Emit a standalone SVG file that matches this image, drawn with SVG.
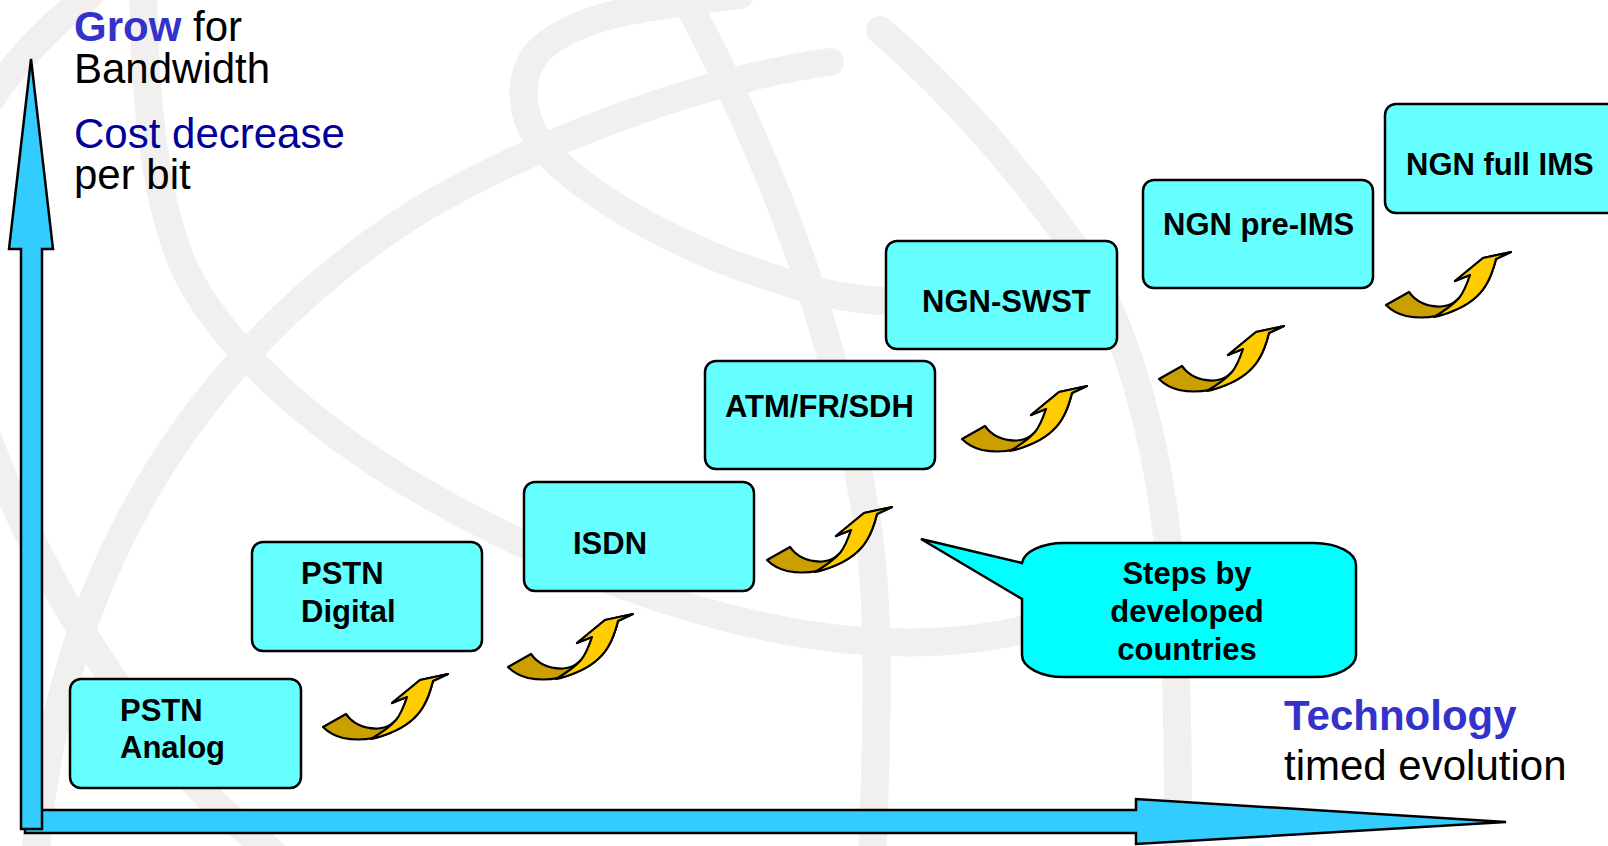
<svg xmlns="http://www.w3.org/2000/svg" width="1608" height="846" viewBox="0 0 1608 846">
<defs>
<style>
.bg{fill:none;stroke:#f1f0ee;stroke-width:28;stroke-linecap:round}
.box{fill:#66ffff;stroke:#000;stroke-width:2.5}
.lbl{font-family:"Liberation Sans",Arial,sans-serif;font-weight:bold;font-size:31px;fill:#000}
.big{font-family:"Liberation Sans",Arial,sans-serif;font-size:42px}
.k{fill:#000}
.blue{fill:#3333cc;font-weight:bold}
.navy{fill:#000099}
.axis{fill:#33ccff;stroke:#000;stroke-width:2.5;stroke-linejoin:miter}
.dark{fill:#cc9f00;stroke:#000;stroke-width:2.2;stroke-linejoin:round}
.lite{fill:#ffcc00;stroke:#000;stroke-width:2.2;stroke-linejoin:round}
</style>
<g id="step">
<path class="dark" d="M0,0 L23,-13 C30,-3 42,2 55,1.5 C65,1 73,-5 77,-12 C80,-18 83,-25 84,-30 L69,-24 L97,-47 L125,-53 L110,-46 C108,-38 105,-28 100,-20 C94,-10 82,0 67,6 C52,12 35,14 20,11 C12,9 5,5 0,0 Z"/>
<path class="lite" d="M48,12 C58,6 67,0 73,-7 C78,-13 82,-24 84,-30 L69,-24 L97,-47 L125,-53 L110,-46 C108,-38 105,-28 100,-20 C94,-10 82,0 67,6 C60,9 54,11 48,12 Z"/>
</g>
</defs>
<rect width="1608" height="846" fill="#fff"/>
<g id="globe">
<path class="bg" d="M90,-5 Q30,40 -10,100"/>
<path class="bg" d="M-15,430 C20,530 80,640 150,730 S250,830 280,860"/>
<path class="bg" d="M143,-10 C145,80 150,190 185,270 C220,340 300,420 420,490 C540,560 700,625 850,640 C950,648 1010,635 1060,620"/>
<path class="bg" d="M830,62 C700,80 540,140 420,210 C300,285 200,390 135,510 C80,610 45,730 35,860"/>
<path class="bg" d="M740,-5 C650,5 570,15 535,55 C515,85 520,130 560,165 C610,210 700,260 820,292 C900,310 960,300 1000,280"/>
<path class="bg" d="M880,30 C950,90 1030,180 1090,270 C1140,360 1165,480 1173,600 C1178,700 1178,780 1178,860"/>
<path class="bg" d="M680,-10 C720,60 775,180 808,280 C840,380 862,470 872,560 C880,650 876,760 872,860"/>
</g>
<g id="axes">
<path id="x-axis" class="axis" d="M25,810 L1136,810 L1136,799 L1506,822 L1136,844 L1136,833 L25,833 Z"/>
<path id="y-axis" class="axis" d="M31,59 L53,249 L42,249 L42,829 L21,829 L21,249 L9,249 Z"/>
</g>
<g id="titles">
<text class="big k" x="74" y="41"><tspan class="blue">Grow</tspan> for</text>
<text class="big k" x="74" y="83">Bandwidth</text>
<text class="big navy" x="74" y="148">Cost decrease</text>
<text class="big k" x="74" y="189">per bit</text>
<text class="big blue" x="1284" y="730">Technology</text>
<text class="big k" x="1284" y="780">timed evolution</text>
</g>
<g id="connectors">
<use href="#step" x="323" y="727"/>
<use href="#step" x="508" y="667"/>
<use href="#step" x="767" y="560"/>
<use href="#step" x="962" y="439"/>
<use href="#step" x="1159" y="379"/>
<use href="#step" x="1386" y="305"/>
</g>
<g id="pstn-analog">
<rect class="box" x="70" y="679" width="231" height="109" rx="11"/>
<text class="lbl" x="120" y="721">PSTN</text>
<text class="lbl" x="120" y="758">Analog</text>
</g>
<g id="pstn-digital">
<rect class="box" x="252" y="542" width="230" height="109" rx="11"/>
<text class="lbl" x="301" y="584">PSTN</text>
<text class="lbl" x="301" y="622">Digital</text>
</g>
<g id="isdn">
<rect class="box" x="524" y="482" width="230" height="109" rx="11"/>
<text class="lbl" x="573" y="554">ISDN</text>
</g>
<g id="atm">
<rect class="box" x="705" y="361" width="230" height="108" rx="11"/>
<text class="lbl" x="725" y="417">ATM/FR/SDH</text>
</g>
<g id="ngn-swst">
<rect class="box" x="886" y="241" width="231" height="108" rx="11"/>
<text class="lbl" x="922" y="312">NGN-SWST</text>
</g>
<g id="ngn-pre-ims">
<rect class="box" x="1143" y="180" width="230" height="108" rx="11"/>
<text class="lbl" x="1163" y="235">NGN pre-IMS</text>
</g>
<g id="ngn-full-ims">
<rect class="box" x="1385" y="104" width="240" height="109" rx="11"/>
<text class="lbl" x="1406" y="175">NGN full IMS</text>
</g>
<g id="callout">
<path d="M1022,563 L921,539 L1022,599 L1022,655 A42,22 0 0 0 1064,677 L1314,677 A42,22 0 0 0 1356,655 L1356,565 A42,22 0 0 0 1314,543 L1064,543 A42,22 0 0 0 1022,563 Z" fill="#00ffff" stroke="#000" stroke-width="2.5" stroke-linejoin="miter"/>
<text class="lbl" x="1187" y="584" text-anchor="middle">Steps by</text>
<text class="lbl" x="1187" y="622" text-anchor="middle">developed</text>
<text class="lbl" x="1187" y="660" text-anchor="middle">countries</text>
</g>
</svg>
